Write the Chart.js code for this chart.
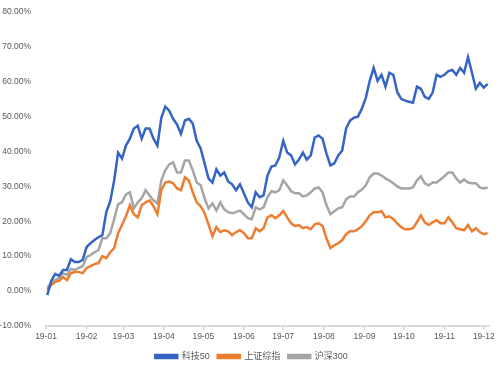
<!DOCTYPE html>
<html>
<head>
<meta charset="utf-8">
<script src="https://cdn.jsdelivr.net/npm/chart.js@4"></script>
<style>
  html, body { margin: 0; padding: 0; background: #fff; }
  #wrap { width: 500px; height: 375px; }
</style>
</head>
<body>
<div id="wrap"><canvas id="grafica"></canvas></div>
<script>
// trading day offsets from 2019-01-01 (sampled), values in %
const days = [1,4,7,10,13,16,19,22,25,28,31,34,37,40,43,46,49,52,55,58,61,64,67,70,73,76,79,82,85,88,91,94,97,100,103,106,109,112,115,118,121,124,127,130,133,136,139,142,145,148,151,154,157,160,163,166,169,172,175,178,181,184,187,190,193,196,199,202,205,208,211,214,217,220,223,226,229,232,235,238,241,244,247,250,253,256,259,262,265,268,271,274,277,280,283,286,289,292,295,298,301,304,307,310,313,316,319,322,325,328,331,334,337];

const keji50 = [-1.2,2.9,4.9,4.3,6.0,6.0,9.1,8.3,8.3,8.9,12.6,13.7,14.6,15.4,16.0,22.6,25.7,31.7,39.7,38.0,41.7,43.7,46.6,47.4,43.7,46.6,46.6,43.7,41.7,49.7,52.9,51.7,49.4,47.7,45.1,48.9,49.4,48.0,43.1,40.9,36.6,32.3,31.1,34.9,33.1,34.0,31.4,30.6,28.9,30.6,28.0,25.4,24.0,28.3,26.9,27.4,33.1,35.7,36.0,38.3,43.1,39.7,38.9,36.3,37.7,39.7,37.7,38.9,44.0,44.6,43.7,39.4,36.0,36.6,38.9,40.3,46.6,48.9,49.7,50.0,52.3,55.4,60.3,64.0,60.3,62.0,58.6,62.6,62.0,57.1,55.1,54.6,54.3,54.0,58.6,58.0,55.7,55.1,56.9,62.0,61.4,62.0,63.1,63.4,62.0,64.0,62.6,67.1,62.6,58.0,59.7,58.3,59.4];

const shangzheng = [0.3,1.7,2.6,2.9,4.0,3.1,5.1,5.4,5.4,5.1,6.6,7.1,7.7,8.0,10.0,9.4,11.1,12.3,16.6,18.9,21.4,24.6,22.0,21.1,24.6,25.4,26.0,24.3,22.0,28.9,31.1,31.4,30.9,29.4,28.9,32.6,31.7,28.3,25.4,24.3,22.3,19.1,15.7,18.3,16.9,17.4,17.1,16.0,16.9,17.4,16.6,15.1,15.1,18.0,17.1,18.0,21.1,21.7,20.9,21.7,22.9,21.1,19.4,18.6,18.9,18.0,18.3,17.7,19.1,19.4,18.6,15.1,12.3,13.1,13.7,14.6,16.3,17.1,17.1,17.7,18.6,20.0,21.7,22.6,22.6,22.9,21.1,21.4,20.6,19.4,18.3,17.7,17.7,18.0,19.7,21.7,19.7,18.9,19.7,20.3,19.4,19.4,21.1,19.7,18.0,17.7,17.4,18.9,17.1,18.0,16.9,16.3,16.6];

const hushen300 = [0.9,2.3,3.1,3.7,5.1,4.6,6.3,6.0,6.6,7.1,9.7,10.3,11.1,11.7,15.1,15.1,16.6,20.6,24.9,25.4,27.7,28.3,23.7,25.4,26.6,28.9,27.4,26.0,25.1,31.7,34.6,36.3,36.9,34.0,34.0,37.4,37.4,34.6,31.1,30.3,26.6,23.7,25.1,23.1,25.4,23.4,22.6,22.3,22.6,23.1,22.0,20.9,20.6,24.0,23.4,24.0,26.9,28.6,28.3,28.9,31.7,30.3,28.6,28.0,28.0,27.1,27.4,28.3,29.4,29.7,28.3,24.6,22.0,22.9,23.7,24.0,26.3,27.1,27.1,28.3,29.1,30.3,32.6,33.7,33.7,33.1,32.3,31.7,30.9,30.0,29.4,29.4,29.4,29.7,31.7,32.9,30.9,30.3,31.1,31.1,32.0,32.9,34.0,34.0,32.3,31.1,32.0,31.1,30.9,30.9,29.7,29.4,29.7];

// month starts (day offset) and their labels
const monthDays = [0,31,59,90,120,151,181,212,243,273,304,334];
const monthLabels = ['19-01','19-02','19-03','19-04','19-05','19-06','19-07','19-08','19-09','19-10','19-11','19-12'];

function pares(vals) {
    return days.map((d, i) => ({ x: d, y: vals[i] }));
}

const fuente = "'Liberation Sans', 'Noto Sans CJK SC', sans-serif";
const gris = '#595959';

// nudge the legend so it is centred on the whole canvas
const moverLeyenda = {
    id: 'moverLeyenda',
    afterLayout(chart) {
        chart.legend.left += 7;
        chart.legend.right += 7;
    }
};

const ctx = document.getElementById('grafica').getContext('2d');
new Chart(ctx, {
    type: 'line',
    data: {
        datasets: [
            { label: '科技50', data: pares(keji50), borderColor: '#3465C4', backgroundColor: '#3465C4' },
            { label: '上证综指', data: pares(shangzheng), borderColor: '#ED7D31', backgroundColor: '#ED7D31' },
            { label: '沪深300', data: pares(hushen300), borderColor: '#A5A5A5', backgroundColor: '#A5A5A5' }
        ]
    },
    plugins: [moverLeyenda],
    options: {
        responsive: true,
        maintainAspectRatio: false,
        animation: false,
        elements: {
            line: { borderWidth: 2.5, tension: 0 },
            point: { radius: 0 }
        },
        layout: { padding: { top: 6, right: 11, left: 0, bottom: 4 } },
        plugins: {
            tooltip: { enabled: false },
            legend: {
                position: 'bottom',
                labels: {
                    boxWidth: 22,
                    boxHeight: 3,
                    padding: 8,
                    color: gris,
                    font: { family: fuente, size: 9 }
                }
            }
        },
        scales: {
            x: {
                type: 'linear',
                min: 0,
                max: 338,
                afterBuildTicks: s => { s.ticks = monthDays.map(v => ({ value: v })); },
                ticks: {
                    autoSkip: false,
                    maxRotation: 0,
                    padding: 2,
                    color: gris,
                    font: { family: fuente, size: 8.5 },
                    callback: (v) => monthLabels[monthDays.indexOf(v)]
                },
                grid: { display: true, drawOnChartArea: false, tickLength: 4, color: '#D9D9D9', lineWidth: 1.5 },
                border: { color: '#D9D9D9', width: 2 }
            },
            y: {
                min: -10,
                max: 80,
                afterFit: s => { s.width = 46; },
                ticks: {
                    stepSize: 10,
                    padding: 7,
                    color: gris,
                    font: { family: fuente, size: 8.5 },
                    callback: v => v.toFixed(2) + '%'
                },
                grid: { display: false },
                border: { display: false }
            }
        }
    }
});
</script>
</body>
</html>
